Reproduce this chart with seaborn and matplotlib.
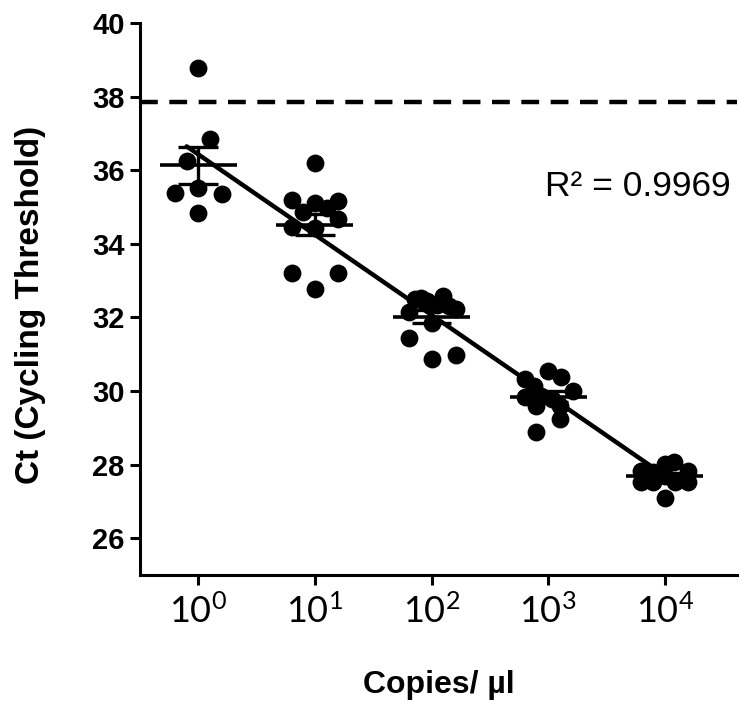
import numpy as np
import pandas as pd
import matplotlib
matplotlib.use("Agg")
import matplotlib.pyplot as plt
import seaborn as sns

# qPCR standard curve: Ct of each replicate per dilution (log10 copies/ul)
dekados = [0, 1, 2, 3, 4]
ct_1e0 = [38.78, 36.86, 36.24, 35.38, 35.51, 35.35, 34.84]
ct_1e1 = [36.19, 35.19, 35.11, 35.16, 34.86, 34.97, 34.68, 34.46, 34.43, 33.22, 33.22, 32.76]
ct_1e2 = [32.54, 32.57, 32.35, 32.14, 32.22, 31.86, 31.43, 30.86, 30.97, 32.45, 32.30, 32.50]
ct_1e3 = [30.54, 30.38, 30.32, 30.14, 29.84, 30.00, 29.87, 29.78, 29.60, 29.60, 29.24, 28.89]
ct_1e4 = [27.84, 28.03, 28.08, 27.81, 27.84, 27.54, 27.54, 27.54, 27.54, 27.68, 27.08]

# horizontal scatter of the dots as laid out in the original (decades)
jit_1e0 = [0, 0.10, -0.10, -0.20, 0, 0.20, 0]
jit_1e1 = [0, -0.20, 0, 0.20, -0.10, 0.10, 0.20, -0.20, 0, -0.20, 0.20, 0]
jit_1e2 = [-0.09, 0.10, 0.05, -0.19, 0.21, 0, -0.19, 0, 0.21, -0.04, 0.15, -0.14]
jit_1e3 = [0, 0.11, -0.20, -0.12, -0.20, 0.21, -0.06, 0.03, -0.10, 0.10, 0.10, -0.10]
jit_1e4 = [-0.20, 0, 0.08, -0.10, 0.20, -0.20, -0.10, 0.09, 0.20, 0, 0]

xtick_labels = ["$\\mathdefault{10^{0}}$", "$\\mathdefault{10^{1}}$", "$\\mathdefault{10^{2}}$",
                "$\\mathdefault{10^{3}}$", "$\\mathdefault{10^{4}}$"]
riba = 37.85  # cut-off Ct
r2_tekstas = "R² = 0.9969"

eil = []
for d, cts, jit in zip(dekados, [ct_1e0, ct_1e1, ct_1e2, ct_1e3, ct_1e4],
                       [jit_1e0, jit_1e1, jit_1e2, jit_1e3, jit_1e4]):
    for c, j in zip(cts, jit):
        eil.append({"dekada": d, "x": 10 ** (d + j), "ct": c})
df = pd.DataFrame(eil)

vid = df.groupby("dekada")["ct"].agg(["mean", "sem"]).reset_index()

k, b = np.polyfit(df["dekada"], df["ct"], 1)
lx = np.array([-0.1, 4.1])
fit = pd.DataFrame({"x": 10 ** lx, "ct": k * lx + b})

sns.set_style("ticks")
plt.rcParams["font.family"] = ["Liberation Sans", "DejaVu Sans"]
plt.rcParams.update({"text.color": "black", "axes.labelcolor": "black",
                     "xtick.color": "black", "ytick.color": "black"})

fig = plt.figure(figsize=(7.4, 7.04), dpi=100)
ax = fig.add_axes([0.1892, 0.1832, 0.8068, 0.7841])
ax.set_xscale("log")

sns.scatterplot(data=df, x="x", y="ct", color="black", s=165, linewidth=0, ax=ax, zorder=3)
sns.lineplot(data=fit, x="x", y="ct", color="black", lw=3.2, ax=ax, zorder=4)

for _, r in vid.iterrows():
    d = r["dekada"]
    ax.hlines(r["mean"], 10 ** (d - 0.33), 10 ** (d + 0.33), color="black", lw=2.6, zorder=5)
    ax.vlines(10 ** d, r["mean"] - r["sem"], r["mean"] + r["sem"], color="black", lw=2.4, zorder=5)
    for v in (r["mean"] - r["sem"], r["mean"] + r["sem"]):
        ax.hlines(v, 10 ** (d - 0.17), 10 ** (d + 0.17), color="black", lw=2.4, zorder=5)

ax.axhline(riba, color="black", lw=3.2, dashes=(4, 2.6), zorder=2)

ax.text(10 ** 2.97, 35.55, r2_tekstas, fontsize=25.5, va="center", ha="left")

ax.set_xlim(10 ** -0.5, 10 ** 4.62)
ax.set_ylim(25, 40)
ax.set_xticks([10 ** d for d in dekados])
ax.set_xticklabels(xtick_labels, fontsize=26, fontfamily="Lato")
ax.minorticks_off()
ax.set_yticks(range(26, 41, 2))
for t in ax.get_yticklabels():
    t.set_fontweight("bold")
    t.set_fontsize(21)

ax.tick_params(axis="both", length=7, width=2.2, color="black", pad=4)
ax.tick_params(axis="x", pad=6)
for s in ["left", "bottom"]:
    ax.spines[s].set_linewidth(2.2)
    ax.spines[s].set_color("black")
sns.despine(ax=ax)

ax.set_xlabel("Copies/ µl", fontsize=23, fontweight="bold", labelpad=30)
ax.set_ylabel("Ct (Cycling Threshold)", fontsize=24, fontweight="bold")
ax.yaxis.set_label_coords(-0.158, 0.49)

fig.savefig("out.png", dpi=100)
